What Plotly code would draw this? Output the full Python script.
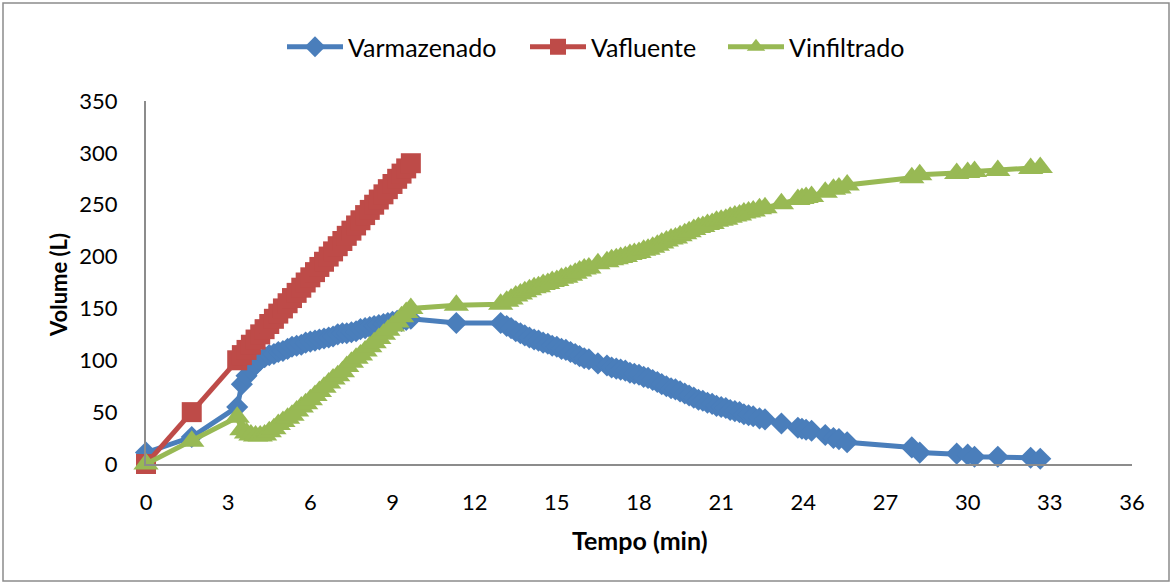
import plotly.graph_objects as go

# ---- data (time in minutes, volume in litres) ----
tempo_afluente = [0, 1.67, 3.33, 3.5, 3.67, 3.83, 4.0, 4.17, 4.33, 4.5, 4.67, 4.83, 5.0, 5.17,
                  5.33, 5.5, 5.67, 5.83, 6.0, 6.17, 6.33, 6.5, 6.67, 6.83, 7.0, 7.17, 7.33, 7.5,
                  7.67, 7.83, 8.0, 8.17, 8.33, 8.5, 8.67, 8.83, 9.0, 9.17, 9.33, 9.5, 9.67]
v_afluente = [0, 50, 100, 105, 110, 115, 120, 125, 130, 135, 140, 145, 150, 155, 160, 165, 170,
              175, 180, 185, 190, 195, 200, 205, 210, 215, 220, 225, 230, 235, 240, 245, 250, 255,
              260, 265, 270, 275, 280, 285, 290]

tempo = tempo_afluente + [11.33, 12.95, 13.17, 13.33, 13.5, 13.67, 13.83, 14.0, 14.17, 14.33, 14.5,
                          14.67, 14.83, 15.0, 15.17, 15.33, 15.5, 15.67, 15.83, 16.0, 16.17, 16.5,
                          16.83, 17.0, 17.17, 17.33, 17.5, 17.67, 17.83, 18.0, 18.17, 18.33, 18.5,
                          18.67, 18.83, 19.0, 19.17, 19.33, 19.5, 19.67, 19.83, 20.0, 20.17, 20.33,
                          20.5, 20.67, 20.83, 21.0, 21.17, 21.33, 21.5, 21.67, 21.83, 22.0, 22.17,
                          22.4, 22.6, 23.2, 23.8, 23.95, 24.1, 24.3, 24.8, 25.1, 25.3, 25.6, 27.96,
                          28.25, 29.6, 30.0, 30.25, 31.1, 32.3, 32.65]

v_armazenado = [11, 26, 55, 77, 85, 91, 96, 100, 103, 105, 106, 108, 109, 111, 113, 114, 115, 117,
                118, 119, 120, 121, 122, 123, 125, 126, 126, 127, 128, 130, 131, 132, 133, 134,
                135, 136, 137, 138, 138, 139, 140,
                136, 136, 133, 131, 128, 126, 124, 122, 120, 119, 117, 116, 114, 113, 111, 110,
                108, 106, 104, 102, 101, 97, 95, 93, 92, 91, 90, 88, 87, 86, 84, 83, 81, 79, 77,
                75, 73, 72, 70, 68, 66, 64, 62, 61, 59, 58, 56, 55, 54, 52, 51, 50, 48, 47, 46,
                44, 43, 39, 35, 34, 33, 32, 28, 25, 24, 21, 16, 11, 10, 9, 7, 7, 6, 5]

v_infiltrado = [0, 22, 45, 33, 30, 28, 27, 27, 28, 31, 34, 38, 41, 44, 47, 51, 55, 58, 62, 66, 70,
                74, 78, 82, 85, 89, 94, 98, 102, 105, 109, 113, 117, 121, 125, 129, 133, 137, 142,
                146, 150,
                153, 154, 157, 159, 162, 164, 166, 168, 170, 171, 173, 174, 176, 177, 179, 180,
                182, 184, 186, 188, 189, 193, 195, 197, 198, 199, 200, 202, 203, 204, 206, 207,
                209, 211, 213, 215, 217, 218, 220, 222, 224, 226, 228, 229, 231, 232, 234, 235,
                236, 238, 239, 240, 242, 243, 244, 246, 247, 251, 255, 256, 257, 258, 262, 265,
                266, 269, 276, 279, 280, 281, 282, 283, 285, 286]

x_ticks = [0, 3, 6, 9, 12, 15, 18, 21, 24, 27, 30, 33, 36]
y_ticks = [0, 50, 100, 150, 200, 250, 300, 350]

FONT = "Lato"
BLUE, RED, GREEN = "#4A7EBB", "#BE4B48", "#98B954"
L, R, T, B, W, H = 146, 41, 101, 120, 1173, 584
PW, PH = W - L - R, H - T - B


def px_x(p):
    return (p - L) / PW


def px_y(p):
    return (H - B - p) / PH


fig = go.Figure()
fig.add_trace(go.Scatter(x=tempo, y=v_armazenado, name="Varmazenado", mode="lines+markers",
                         line=dict(color=BLUE, width=5), legend="legend", cliponaxis=False,
                         marker=dict(symbol="diamond", size=17, color=BLUE)))
fig.add_trace(go.Scatter(x=tempo_afluente, y=v_afluente, name="Vafluente", mode="lines+markers",
                         line=dict(color=RED, width=5), legend="legend2", cliponaxis=False,
                         marker=dict(symbol="square", size=20, color=RED)))
fig.add_trace(go.Scatter(x=tempo, y=v_infiltrado, name="Vinfiltrado", mode="lines+markers",
                         line=dict(color=GREEN, width=5), legend="legend3", cliponaxis=False,
                         marker=dict(symbol="triangle-up", size=22, color=GREEN)))

leg_common = dict(orientation="h", xanchor="left", y=px_y(47), yanchor="middle",
                  font=dict(family=FONT, size=25, color="black"), itemwidth=56,
                  bgcolor="rgba(0,0,0,0)", borderwidth=0)

fig.update_layout(
    width=W, height=H,
    margin=dict(l=L, r=R, t=T, b=B),
    paper_bgcolor="white", plot_bgcolor="white",
    font=dict(family=FONT, size=22, color="black"),
    showlegend=True,
    legend=dict(x=px_x(282), **leg_common),
    legend2=dict(x=px_x(525), **leg_common),
    legend3=dict(x=px_x(723), **leg_common),
    xaxis=dict(range=[0, 36], tickmode="array", tickvals=x_ticks, ticktext=[str(v) for v in x_ticks],
               showgrid=False, zeroline=False, showline=True, linecolor="#8C8C8C", linewidth=2,
               ticks="", ticklabelstandoff=18, tickfont=dict(family=FONT, size=22)),
    yaxis=dict(range=[0, 350], tickmode="array", tickvals=y_ticks, ticktext=[str(v) for v in y_ticks],
               showgrid=False, zeroline=False, showline=True, linecolor="#8C8C8C", linewidth=2,
               ticks="", ticklabelstandoff=22, tickfont=dict(family=FONT, size=22)),
)

fig.add_annotation(text="<b>Tempo (min)</b>", xref="paper", yref="paper",
                   x=px_x(640), y=px_y(540), showarrow=False,
                   xanchor="center", yanchor="middle", font=dict(family=FONT, size=25))
fig.add_annotation(text="<b>Volume (L)</b>", xref="paper", yref="paper",
                   x=px_x(58), y=px_y(285), showarrow=False, textangle=-90,
                   xanchor="center", yanchor="middle", font=dict(family=FONT, size=22))

# outer chart border
fig.add_shape(type="rect", xref="paper", yref="paper",
              x0=px_x(3), x1=px_x(1169), y0=px_y(581), y1=px_y(3),
              line=dict(color="#8C8C8C", width=1.5), fillcolor="rgba(0,0,0,0)", layer="below")

fig.write_html("out.html")
